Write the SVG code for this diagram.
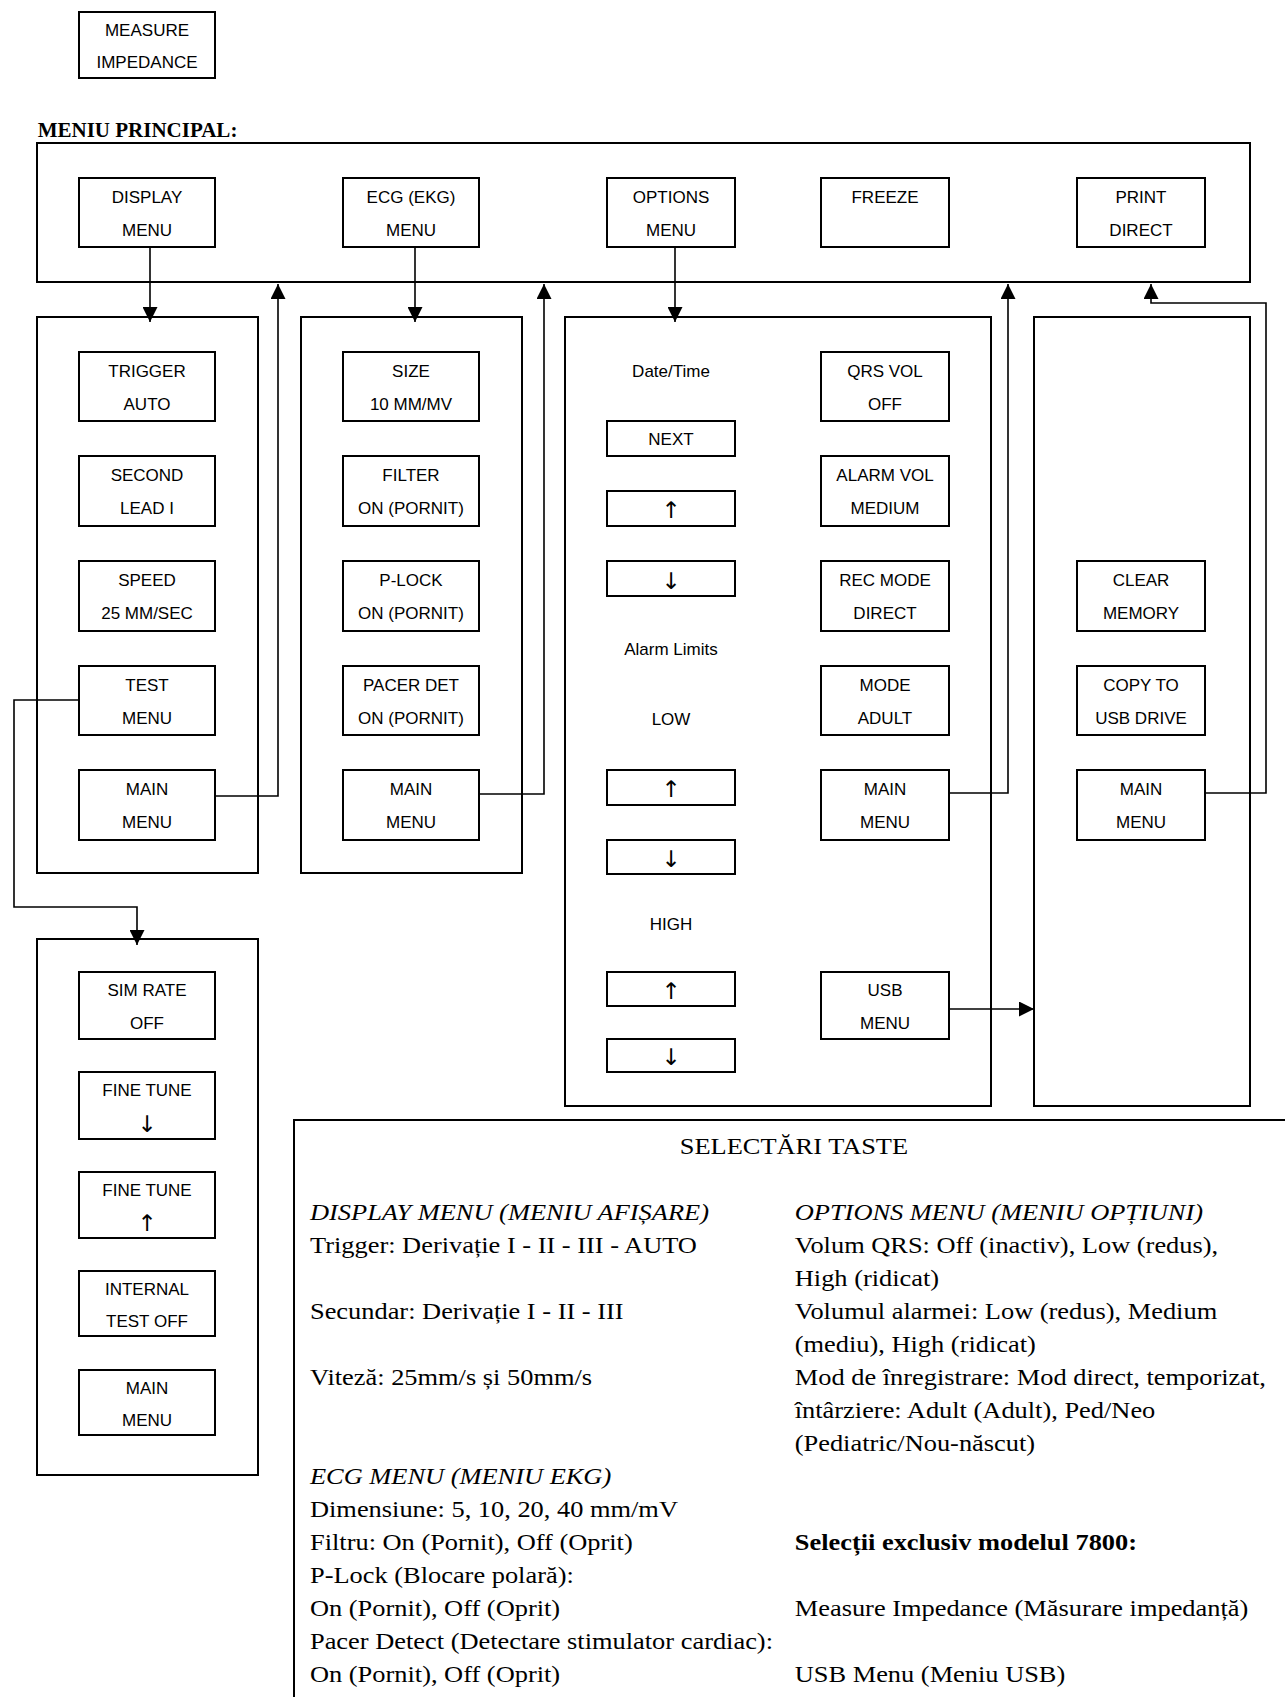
<svg xmlns="http://www.w3.org/2000/svg" width="1285" height="1697" viewBox="0 0 1285 1697">
<defs>
<style>
.b{fill:#fff;stroke:#000;stroke-width:2}
.f{fill:none;stroke:#000;stroke-width:2}
.c{fill:none;stroke:#000;stroke-width:1.6}
.t{font-family:"Liberation Sans","DejaVu Sans",sans-serif;font-size:17px;text-anchor:middle;fill:#000}
.a{font-family:"DejaVu Sans","Liberation Sans",sans-serif;font-size:23px;text-anchor:middle;fill:#000}
.s{font-family:"Liberation Serif","DejaVu Serif",serif;font-size:24px;fill:#000}
.i{font-style:italic}
.h{font-family:"Liberation Serif","DejaVu Serif",serif;font-size:21px;font-weight:bold;fill:#000}
</style>
<marker id="ah" viewBox="0 0 15 15" refX="15" refY="7.5" markerWidth="15" markerHeight="15" markerUnits="userSpaceOnUse" orient="auto">
<path d="M0,0 L15,7.5 L0,15 z" fill="#000"/>
</marker>
</defs>
<rect width="1285" height="1697" fill="#fff"/>

<g id="measure-impedance"><rect class="b" x="79" y="12" width="136" height="66"/><text class="t" x="147" y="36">MEASURE</text><text class="t" x="147" y="68">IMPEDANCE</text></g>

<text class="h" x="37.7" y="137">MENIU PRINCIPAL:</text>

<g id="main-menu"><rect class="f" x="37" y="143" width="1213" height="139"/></g>
<g id="display-menu"><rect class="b" x="79" y="178" width="136" height="69"/><text class="t" x="147" y="202.5">DISPLAY</text><text class="t" x="147" y="235.5">MENU</text></g>
<g id="ecg-menu"><rect class="b" x="343" y="178" width="136" height="69"/><text class="t" x="411" y="202.5">ECG (EKG)</text><text class="t" x="411" y="235.5">MENU</text></g>
<g id="options-menu"><rect class="b" x="607" y="178" width="128" height="69"/><text class="t" x="671" y="202.5">OPTIONS</text><text class="t" x="671" y="235.5">MENU</text></g>
<g id="freeze"><rect class="b" x="821" y="178" width="128" height="69"/><text class="t" x="885" y="202.5">FREEZE</text></g>
<g id="print-direct"><rect class="b" x="1077" y="178" width="128" height="69"/><text class="t" x="1141" y="202.5">PRINT</text><text class="t" x="1141" y="235.5">DIRECT</text></g>

<g id="display-submenu"><rect class="f" x="37" y="317" width="221" height="556"/></g>
<g id="trigger"><rect class="b" x="79" y="352" width="136" height="69"/><text class="t" x="147" y="376.5">TRIGGER</text><text class="t" x="147" y="409.5">AUTO</text></g>
<g id="second"><rect class="b" x="79" y="456" width="136" height="70"/><text class="t" x="147" y="480.5">SECOND</text><text class="t" x="147" y="513.5">LEAD I</text></g>
<g id="speed"><rect class="b" x="79" y="561" width="136" height="70"/><text class="t" x="147" y="585.5">SPEED</text><text class="t" x="147" y="618.5">25 MM/SEC</text></g>
<g id="test-menu"><rect class="b" x="79" y="666" width="136" height="69"/><text class="t" x="147" y="690.5">TEST</text><text class="t" x="147" y="723.5">MENU</text></g>
<g id="display-main"><rect class="b" x="79" y="770" width="136" height="70"/><text class="t" x="147" y="794.5">MAIN</text><text class="t" x="147" y="827.5">MENU</text></g>

<g id="ecg-submenu"><rect class="f" x="301" y="317" width="221" height="556"/></g>
<g id="size"><rect class="b" x="343" y="352" width="136" height="69"/><text class="t" x="411" y="376.5">SIZE</text><text class="t" x="411" y="409.5">10 MM/MV</text></g>
<g id="filter"><rect class="b" x="343" y="456" width="136" height="70"/><text class="t" x="411" y="480.5">FILTER</text><text class="t" x="411" y="513.5">ON (PORNIT)</text></g>
<g id="p-lock"><rect class="b" x="343" y="561" width="136" height="70"/><text class="t" x="411" y="585.5">P-LOCK</text><text class="t" x="411" y="618.5">ON (PORNIT)</text></g>
<g id="pacer-det"><rect class="b" x="343" y="666" width="136" height="69"/><text class="t" x="411" y="690.5">PACER DET</text><text class="t" x="411" y="723.5">ON (PORNIT)</text></g>
<g id="ecg-main"><rect class="b" x="343" y="770" width="136" height="70"/><text class="t" x="411" y="794.5">MAIN</text><text class="t" x="411" y="827.5">MENU</text></g>

<g id="options-submenu"><rect class="f" x="565" y="317" width="426" height="789"/></g>
<g id="date-time"><text class="t" x="671" y="377">Date/Time</text></g>
<g id="next"><rect class="b" x="607" y="421" width="128" height="35"/><text class="t" x="671" y="445">NEXT</text></g>
<g id="dt-up"><rect class="b" x="607" y="491" width="128" height="35"/><text class="a" x="671" y="518">↑</text></g>
<g id="dt-down"><rect class="b" x="607" y="561" width="128" height="35"/><text class="a" x="671" y="589">↓</text></g>
<g id="alarm-limits"><text class="t" x="671" y="655">Alarm Limits</text></g>
<g id="low"><text class="t" x="671" y="725">LOW</text></g>
<g id="low-up"><rect class="b" x="607" y="770" width="128" height="35"/><text class="a" x="671" y="797">↑</text></g>
<g id="low-down"><rect class="b" x="607" y="840" width="128" height="34"/><text class="a" x="671" y="867">↓</text></g>
<g id="high"><text class="t" x="671" y="930">HIGH</text></g>
<g id="high-up"><rect class="b" x="607" y="972" width="128" height="34"/><text class="a" x="671" y="999">↑</text></g>
<g id="high-down"><rect class="b" x="607" y="1039" width="128" height="33"/><text class="a" x="671" y="1065">↓</text></g>
<g id="qrs-vol"><rect class="b" x="821" y="352" width="128" height="69"/><text class="t" x="885" y="376.5">QRS VOL</text><text class="t" x="885" y="409.5">OFF</text></g>
<g id="alarm-vol"><rect class="b" x="821" y="456" width="128" height="70"/><text class="t" x="885" y="480.5">ALARM VOL</text><text class="t" x="885" y="513.5">MEDIUM</text></g>
<g id="rec-mode"><rect class="b" x="821" y="561" width="128" height="70"/><text class="t" x="885" y="585.5">REC MODE</text><text class="t" x="885" y="618.5">DIRECT</text></g>
<g id="mode"><rect class="b" x="821" y="666" width="128" height="69"/><text class="t" x="885" y="690.5">MODE</text><text class="t" x="885" y="723.5">ADULT</text></g>
<g id="options-main"><rect class="b" x="821" y="770" width="128" height="70"/><text class="t" x="885" y="794.5">MAIN</text><text class="t" x="885" y="827.5">MENU</text></g>
<g id="usb-menu"><rect class="b" x="821" y="972" width="128" height="67"/><text class="t" x="885" y="996">USB</text><text class="t" x="885" y="1029">MENU</text></g>

<g id="usb-submenu"><rect class="f" x="1034" y="317" width="216" height="789"/></g>
<g id="clear-memory"><rect class="b" x="1077" y="561" width="128" height="70"/><text class="t" x="1141" y="585.5">CLEAR</text><text class="t" x="1141" y="618.5">MEMORY</text></g>
<g id="copy-usb"><rect class="b" x="1077" y="666" width="128" height="69"/><text class="t" x="1141" y="690.5">COPY TO</text><text class="t" x="1141" y="723.5">USB DRIVE</text></g>
<g id="usb-main"><rect class="b" x="1077" y="770" width="128" height="70"/><text class="t" x="1141" y="794.5">MAIN</text><text class="t" x="1141" y="827.5">MENU</text></g>

<g id="test-submenu"><rect class="f" x="37" y="939" width="221" height="536"/></g>
<g id="sim-rate"><rect class="b" x="79" y="972" width="136" height="67"/><text class="t" x="147" y="996">SIM RATE</text><text class="t" x="147" y="1029">OFF</text></g>
<g id="fine-down"><rect class="b" x="79" y="1072" width="136" height="67"/><text class="t" x="147" y="1096">FINE TUNE</text><text class="a" x="147" y="1132">↓</text></g>
<g id="fine-up"><rect class="b" x="79" y="1172" width="136" height="66"/><text class="t" x="147" y="1196">FINE TUNE</text><text class="a" x="147" y="1231">↑</text></g>
<g id="internal-test"><rect class="b" x="79" y="1271" width="136" height="65"/><text class="t" x="147" y="1295">INTERNAL</text><text class="t" x="147" y="1327">TEST OFF</text></g>
<g id="test-main"><rect class="b" x="79" y="1370" width="136" height="65"/><text class="t" x="147" y="1394">MAIN</text><text class="t" x="147" y="1426">MENU</text></g>

<g id="connectors">
<path class="c" d="M150,247 V322" marker-end="url(#ah)"/>
<path class="c" d="M415,247 V322" marker-end="url(#ah)"/>
<path class="c" d="M675,247 V322" marker-end="url(#ah)"/>
<path class="c" d="M215,796 H278 V284" marker-end="url(#ah)"/>
<path class="c" d="M479,794 H544 V284" marker-end="url(#ah)"/>
<path class="c" d="M949,793 H1008 V284" marker-end="url(#ah)"/>
<path class="c" d="M1205,793 H1266 V303 H1151 V284" marker-end="url(#ah)"/>
<path class="c" d="M79,700 H14 V907 H137 V945" marker-end="url(#ah)"/>
<path class="c" d="M949,1009 H1034" marker-end="url(#ah)"/>
</g>

<g id="key-selections">
<path class="f" d="M294,1697 V1120 H1290"/>
<g transform="scale(1.1,1)">
<text class="s" x="721.8" y="1154" text-anchor="middle">SELECTĂRI TASTE</text>
<text class="s i" x="281.8" y="1220">DISPLAY MENU (MENIU AFIȘARE)</text>
<text class="s" x="281.8" y="1253">Trigger: Derivație I - II - III - AUTO</text>
<text class="s" x="281.8" y="1319">Secundar: Derivație I - II - III</text>
<text class="s" x="281.8" y="1385">Viteză: 25mm/s și 50mm/s</text>
<text class="s i" x="281.8" y="1484">ECG MENU (MENIU EKG)</text>
<text class="s" x="281.8" y="1517">Dimensiune: 5, 10, 20, 40 mm/mV</text>
<text class="s" x="281.8" y="1550">Filtru: On (Pornit), Off (Oprit)</text>
<text class="s" x="281.8" y="1583">P-Lock (Blocare polară):</text>
<text class="s" x="281.8" y="1616">On (Pornit), Off (Oprit)</text>
<text class="s" x="281.8" y="1649">Pacer Detect (Detectare stimulator cardiac):</text>
<text class="s" x="281.8" y="1682">On (Pornit), Off (Oprit)</text>
<text class="s i" x="722.5" y="1220">OPTIONS MENU (MENIU OPȚIUNI)</text>
<text class="s" x="722.5" y="1253">Volum QRS: Off (inactiv), Low (redus),</text>
<text class="s" x="722.5" y="1286">High (ridicat)</text>
<text class="s" x="722.5" y="1319">Volumul alarmei: Low (redus), Medium</text>
<text class="s" x="722.5" y="1352">(mediu), High (ridicat)</text>
<text class="s" x="722.5" y="1385">Mod de înregistrare: Mod direct, temporizat,</text>
<text class="s" x="722.5" y="1418">întârziere: Adult (Adult), Ped/Neo</text>
<text class="s" x="722.5" y="1451">(Pediatric/Nou-născut)</text>
<text class="s" x="722.5" y="1550" font-weight="bold">Selecții exclusiv modelul 7800:</text>
<text class="s" x="722.5" y="1616">Measure Impedance (Măsurare impedanță)</text>
<text class="s" x="722.5" y="1682">USB Menu (Meniu USB)</text>
</g>
</g>
</svg>
